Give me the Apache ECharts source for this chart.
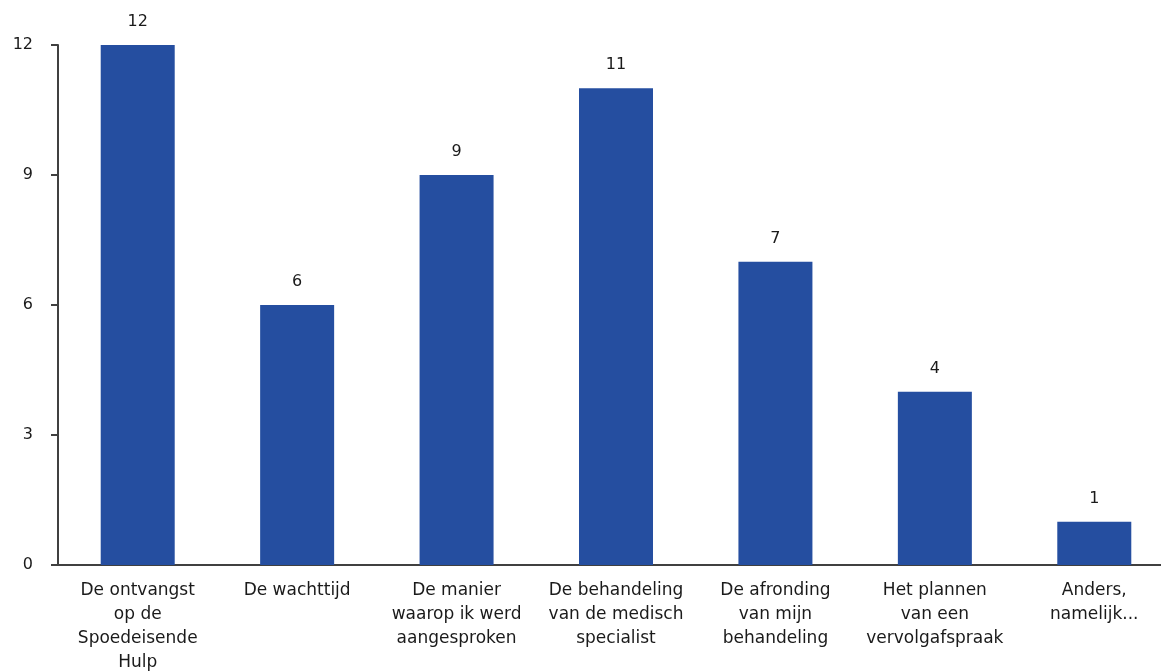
<!DOCTYPE html>
<html>
<head>
<meta charset="utf-8">
<script src="https://cdn.jsdelivr.net/npm/echarts@6/dist/echarts.min.js"></script>
<style>
  html, body { margin: 0; padding: 0; background: #ffffff; }
  #chart { width: 1161px; height: 672px; }
</style>
</head>
<body>
<div id="chart"></div>
<script>
// Answer options (wrapped over several lines) and number of mentions
const categories = [
  'De ontvangst\nop de\nSpoedeisende\nHulp',
  'De wachttijd',
  'De manier\nwaarop ik werd\naangesproken',
  'De behandeling\nvan de medisch\nspecialist',
  'De afronding\nvan mijn\nbehandeling',
  'Het plannen\nvan een\nvervolgafspraak',
  'Anders,\nnamelijk...'
];
const counts = [12, 6, 9, 11, 7, 4, 1];

const axisColor = '#404040';
const textColor = '#1a1a1a';
const fontFamily = '"DejaVu Sans", Verdana, sans-serif';

const chart = echarts.init(document.getElementById('chart'), null, { renderer: 'canvas' });
chart.setOption({
  animation: false,
  backgroundColor: '#ffffff',
  grid: {
    left: 58, top: 45, width: 1116, height: 520,
    containLabel: false,
    outerBoundsMode: 'none'
  },
  xAxis: {
    type: 'category',
    data: categories,
    axisLine: { lineStyle: { color: axisColor, width: 2 } },
    axisTick: { alignWithLabel: true, length: 6, lineStyle: { color: axisColor, width: 2 } },
    axisLabel: {
      interval: 0,
      margin: 14,
      color: textColor,
      fontFamily: fontFamily,
      fontSize: 17,
      lineHeight: 24,
      align: 'center'
    }
  },
  yAxis: {
    type: 'value',
    min: 0,
    max: 12,
    interval: 3,
    splitLine: { show: false },
    axisLine: { show: true, lineStyle: { color: axisColor, width: 2 } },
    axisTick: { show: true, length: 7, lineStyle: { color: axisColor, width: 2 } },
    axisLabel: {
      margin: 25,
      color: textColor,
      fontFamily: fontFamily,
      fontSize: 16
    }
  },
  series: [{
    type: 'bar',
    data: counts,
    barWidth: 74,
    itemStyle: { color: '#254EA0' },
    label: {
      show: true,
      position: 'top',
      distance: 15,
      color: textColor,
      fontFamily: fontFamily,
      fontSize: 16
    }
  }]
});
</script>
</body>
</html>
